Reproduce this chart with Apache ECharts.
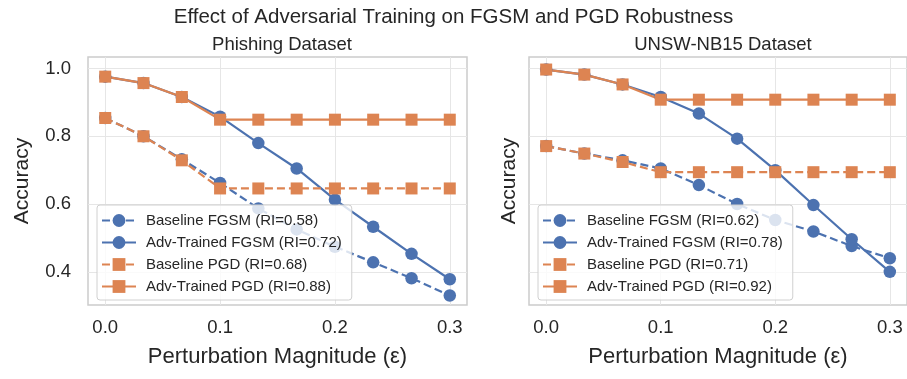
<!DOCTYPE html>
<html>
<head>
<meta charset="utf-8">
<script src="https://cdn.jsdelivr.net/npm/echarts@6/dist/echarts.min.js"></script>
<style>
html,body{margin:0;padding:0;background:#fff;}
#chart{width:907px;height:379px;}
</style>
</head>
<body>
<div id="chart"></div>
<script>
// ---- data ----
var epsilons = [0, 0.0333, 0.0667, 0.1, 0.1333, 0.1667, 0.2, 0.2333, 0.2667, 0.3];
var xTicks = [0.0, 0.1, 0.2, 0.3];
var yTicks = [0.4, 0.6, 0.8, 1.0];

var phishBaseFGSM = [0.854, 0.800, 0.732, 0.662, 0.587, 0.525, 0.474, 0.428, 0.381, 0.330];
var phishAdvFGSM  = [0.976, 0.957, 0.916, 0.858, 0.780, 0.705, 0.613, 0.533, 0.453, 0.378];
var phishBasePGD  = [0.854, 0.800, 0.729, 0.646, 0.646, 0.646, 0.646, 0.646, 0.646, 0.646];
var phishAdvPGD   = [0.976, 0.957, 0.916, 0.849, 0.849, 0.849, 0.849, 0.849, 0.849, 0.849];

var unswBaseFGSM = [0.771, 0.749, 0.729, 0.705, 0.656, 0.600, 0.553, 0.519, 0.476, 0.440];
var unswAdvFGSM  = [0.997, 0.982, 0.953, 0.916, 0.867, 0.793, 0.700, 0.597, 0.496, 0.400];
var unswBasePGD  = [0.771, 0.749, 0.724, 0.694, 0.694, 0.694, 0.694, 0.694, 0.694, 0.694];
var unswAdvPGD   = [0.997, 0.982, 0.953, 0.908, 0.908, 0.908, 0.908, 0.908, 0.908, 0.908];

var phishNames = ['Baseline FGSM (RI=0.58)', 'Adv-Trained FGSM (RI=0.72)', 'Baseline PGD (RI=0.68)', 'Adv-Trained PGD (RI=0.88)'];
var unswNames  = ['Baseline FGSM (RI=0.62)', 'Adv-Trained FGSM (RI=0.78)', 'Baseline PGD (RI=0.71)', 'Adv-Trained PGD (RI=0.92)'];

var mainTitle = 'Effect of Adversarial Training on FGSM and PGD Robustness';
var panelTitles = ['Phishing Dataset', 'UNSW-NB15 Dataset'];

// ---- styles ----
var BLUE = '#4c72b0', ORANGE = '#dd8452', TXT = '#262626';
var FONT = '"Liberation Sans", Arial, sans-serif';

function pairs(vals){ return vals.map(function(v,i){ return [epsilons[i], v]; }); }

function mkSeries(name, vals, idx, color, dashed, symbol){
  return {
    type:'line', name:name, xAxisIndex:idx, yAxisIndex:idx,
    data:pairs(vals), symbol:symbol, symbolSize: symbol==='circle'?12.5:12,
    showSymbol:true,
    lineStyle:{color:color, width:2.2, type: dashed ? [8,4] : 'solid'},
    itemStyle:{color:color, opacity:1},
    emphasis:{disabled:true}, animation:false
  };
}

function xAxis(idx){
  return {
    type:'value', gridIndex:idx, min:-0.015, max:0.315,
    name:'Perturbation Magnitude (ε)', nameLocation:'middle', nameGap:41,
    nameTextStyle:{fontSize:22, color:TXT, fontFamily:FONT},
    axisLine:{show:false},
    axisTick:{show:false, customValues:xTicks},
    axisLabel:{customValues:xTicks, fontSize:18.5, color:TXT, fontFamily:FONT, margin:13,
      formatter:function(v){ return v.toFixed(1); }},
    splitLine:{show:true, lineStyle:{color:'#e6e6e6', width:1}}
  };
}
function yAxis(idx, showLabels, nameGap){
  return {
    type:'value', gridIndex:idx, min:0.302, max:1.034,
    name:'Accuracy', nameLocation:'middle', nameGap:nameGap,
    nameTextStyle:{fontSize:21, color:TXT, fontFamily:FONT},
    axisLine:{show:false},
    axisTick:{show:false, customValues:yTicks},
    axisLabel:{show:showLabels, customValues:yTicks, fontSize:18.5, color:TXT, fontFamily:FONT, margin:17,
      formatter:function(v){ return v.toFixed(1); }},
    splitLine:{show:true, lineStyle:{color:'#e6e6e6', width:1}}
  };
}
function legend(names, left){
  return {
    data:names, orient:'vertical', left:left, top:205,
    itemWidth:34, itemHeight:16, itemGap:7,
    padding:[8,10,6,4],
    backgroundColor:'rgba(255,255,255,0.8)',
    borderColor:'#d0d0d0', borderWidth:1, borderRadius:3,
    textStyle:{fontSize:15, color:TXT, fontFamily:FONT, padding:[0,0,0,5]},
    selectedMode:false
  };
}

var chart = echarts.init(document.getElementById('chart'), null, {renderer:'canvas'});
chart.setOption({
  animation:false,
  backgroundColor:'#ffffff',
  title:[
    {text:mainTitle, left:'center', top:2, textStyle:{fontSize:20.5, fontWeight:'normal', color:TXT, fontFamily:FONT}},
    {text:panelTitles[0], left:277, textAlign:'center', top:30, textStyle:{fontSize:18.5, fontWeight:'normal', color:TXT, fontFamily:FONT}},
    {text:panelTitles[1], left:718, textAlign:'center', top:30, textStyle:{fontSize:18.5, fontWeight:'normal', color:TXT, fontFamily:FONT}}
  ],
  grid:[
    {left:88, top:57, width:379, height:248, show:true, borderColor:'#cccccc', borderWidth:1.5, backgroundColor:'#ffffff'},
    {left:529, top:57, width:379, height:248, show:true, borderColor:'#cccccc', borderWidth:1.5, backgroundColor:'#ffffff'}
  ],
  xAxis:[xAxis(0), xAxis(1)],
  yAxis:[yAxis(0, true, 55), yAxis(1, false, 9)],
  legend:[legend(phishNames, 97), legend(unswNames, 538)],
  series:[
    mkSeries(phishNames[0], phishBaseFGSM, 0, BLUE, true, 'circle'),
    mkSeries(phishNames[1], phishAdvFGSM, 0, BLUE, false, 'circle'),
    mkSeries(phishNames[2], phishBasePGD, 0, ORANGE, true, 'rect'),
    mkSeries(phishNames[3], phishAdvPGD, 0, ORANGE, false, 'rect'),
    mkSeries(unswNames[0], unswBaseFGSM, 1, BLUE, true, 'circle'),
    mkSeries(unswNames[1], unswAdvFGSM, 1, BLUE, false, 'circle'),
    mkSeries(unswNames[2], unswBasePGD, 1, ORANGE, true, 'rect'),
    mkSeries(unswNames[3], unswAdvPGD, 1, ORANGE, false, 'rect')
  ]
});
</script>
</body>
</html>
